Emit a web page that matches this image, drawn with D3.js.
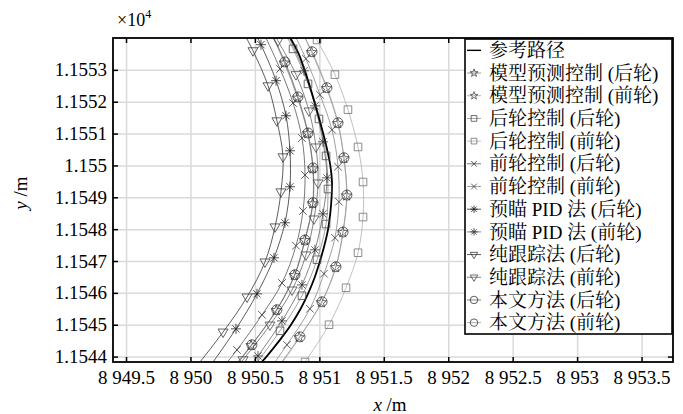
<!DOCTYPE html>
<html>
<head>
<meta charset="utf-8">
<script src="https://cdn.jsdelivr.net/npm/d3@7"></script>
<style>
  body { margin: 0; background: #fff; }
</style>
</head>
<body>
<svg id="chart" width="683" height="414"></svg>
<script>
// ---- axis ticks ----
const xTicks = [8949.5, 8950, 8950.5, 8951, 8951.5, 8952, 8952.5, 8953, 8953.5];
const xTickLabels = ["8 949.5", "8 950", "8 950.5", "8 951", "8 951.5", "8 952", "8 952.5", "8 953", "8 953.5"];
const yTicks = [11544, 11545, 11546, 11547, 11548, 11549, 11550, 11551, 11552, 11553];
const yTickLabels = ["1.1544", "1.1545", "1.1546", "1.1547", "1.1548", "1.1549", "1.155", "1.1551", "1.1552", "1.1553"];

// ---- reference path (x, y in metres) ----
const refY = [11543.5, 11544.0, 11544.5, 11545.0, 11545.5, 11546.0, 11546.5, 11547.0, 11547.5, 11548.0, 11548.5, 11549.0,
              11549.5, 11550.0, 11550.5, 11551.0, 11551.5, 11552.0, 11552.5, 11553.0, 11553.5, 11554.0, 11554.5];
const refX = [8950.48, 8950.59, 8950.69, 8950.78, 8950.855, 8950.915, 8950.965, 8951.005, 8951.04, 8951.068, 8951.085, 8951.095,
              8951.098, 8951.085, 8951.06, 8951.03, 8950.997, 8950.962, 8950.925, 8950.885, 8950.84, 8950.775, 8950.70];

// ---- model predictive control ----
const mpcRearY = [11543.4, 11544.35, 11545.45, 11546.55, 11547.65, 11548.80, 11549.90, 11551.00, 11552.12, 11553.22, 11554.4];
const mpcRearX = [8950.28, 8950.470, 8950.665, 8950.806, 8950.886, 8950.948, 8950.949, 8950.910, 8950.831, 8950.729, 8950.60];
const mpcFrontY = [11543.4, 11544.60, 11545.70, 11546.80, 11547.90, 11549.05, 11550.22, 11551.32, 11552.42, 11553.55, 11554.4];
const mpcFrontX = [8950.63, 8950.843, 8951.016, 8951.126, 8951.182, 8951.212, 8951.190, 8951.143, 8951.056, 8950.940, 8950.84];

// ---- rear-wheel control ----
const rwcRearY = [11543.4, 11544.81, 11545.91, 11547.04, 11548.16, 11549.26, 11550.30, 11551.46, 11552.56, 11553.66, 11554.4];
const rwcRearX = [8950.44, 8950.695, 8950.865, 8950.982, 8951.052, 8951.067, 8951.052, 8950.997, 8950.912, 8950.796, 8950.70];
const rwcFrontY = [11543.4, 11543.83, 11545.00, 11546.16, 11547.26, 11548.38, 11549.48, 11550.58, 11551.75, 11552.85, 11553.94, 11554.4];
const rwcFrontX = [8950.82, 8950.889, 8951.075, 8951.207, 8951.300, 8951.339, 8951.339, 8951.300, 8951.222, 8951.121, 8950.982, 8950.92];

// ---- front-wheel control ----
const fwcRearY = [11543.4, 11544.21, 11545.31, 11546.31, 11547.48, 11548.57, 11549.70, 11550.86, 11551.96, 11553.03, 11554.4];
const fwcRearX = [8950.20, 8950.361, 8950.555, 8950.710, 8950.819, 8950.873, 8950.889, 8950.865, 8950.796, 8950.695, 8950.54];
const fwcFrontY = [11543.4, 11544.37, 11545.50, 11546.60, 11547.73, 11548.86, 11549.96, 11551.12, 11552.22, 11553.35, 11554.4];
const fwcFrontX = [8950.58, 8950.749, 8950.927, 8951.036, 8951.121, 8951.152, 8951.145, 8951.098, 8951.005, 8950.896, 8950.77];

// ---- preview PID ----
const pidRearY = [11543.4, 11544.87, 11545.97, 11547.10, 11548.20, 11549.33, 11550.46, 11551.56, 11552.66, 11553.79, 11554.4];
const pidRearX = [8950.10, 8950.353, 8950.516, 8950.648, 8950.733, 8950.772, 8950.772, 8950.741, 8950.664, 8950.547, 8950.47];
const pidFrontY = [11543.4, 11544.02, 11545.12, 11546.25, 11547.35, 11548.48, 11549.61, 11550.74, 11551.87, 11552.97, 11554.4];
const pidFrontX = [8950.41, 8950.524, 8950.710, 8950.865, 8950.966, 8951.028, 8951.059, 8951.028, 8950.966, 8950.881, 8950.72];

// ---- pure pursuit ----
const ppRearY = [11543.4, 11544.77, 11545.87, 11546.97, 11548.07, 11549.17, 11550.27, 11551.40, 11552.50, 11553.60, 11554.4];
const ppRearX = [8949.99, 8950.253, 8950.439, 8950.578, 8950.656, 8950.702, 8950.718, 8950.671, 8950.602, 8950.485, 8950.38];
const ppFrontY = [11543.4, 11543.90, 11544.99, 11546.09, 11547.19, 11548.32, 11549.45, 11550.58, 11551.71, 11552.85, 11553.91, 11554.4];
const ppFrontX = [8950.31, 8950.408, 8950.617, 8950.788, 8950.896, 8950.958, 8950.990, 8950.974, 8950.920, 8950.819, 8950.679, 8950.61];

// ---- proposed method ----
const oursRearY = [11543.4, 11544.37, 11545.47, 11546.57, 11547.66, 11548.83, 11549.92, 11551.02, 11552.15, 11553.25, 11554.4];
const oursRearX = [8950.29, 8950.477, 8950.671, 8950.811, 8950.889, 8950.951, 8950.951, 8950.912, 8950.834, 8950.733, 8950.60];
const oursFrontY = [11543.4, 11544.62, 11545.72, 11546.82, 11547.91, 11549.07, 11550.24, 11551.34, 11552.44, 11553.57, 11554.4];
const oursFrontX = [8950.64, 8950.850, 8951.021, 8951.129, 8951.184, 8951.214, 8951.191, 8951.145, 8951.059, 8950.943, 8950.84];

// ---- marker shapes (size = radius in px) ----
const shapes = {
  star: { draw(c, r) {
    for (let i = 0; i < 10; i++) {
      const a = -Math.PI / 2 + i * Math.PI / 5, rr = i % 2 ? r * 0.40 : r;
      const px = rr * Math.cos(a), py = rr * Math.sin(a);
      i ? c.lineTo(px, py) : c.moveTo(px, py);
    }
    c.closePath();
  }},
  square: { draw(c, r) { c.rect(-r, -r, 2 * r, 2 * r); } },
  times: { draw(c, r) { c.moveTo(-r, -r); c.lineTo(r, r); c.moveTo(r, -r); c.lineTo(-r, r); } },
  asterisk: { draw(c, r) {
    const d = r * 0.72;
    c.moveTo(0, -r); c.lineTo(0, r); c.moveTo(-r, 0); c.lineTo(r, 0);
    c.moveTo(-d, -d); c.lineTo(d, d); c.moveTo(d, -d); c.lineTo(-d, d);
  }},
  triDown: { draw(c, r) { c.moveTo(-r, -r * 0.6); c.lineTo(r, -r * 0.6); c.lineTo(0, r * 1.1); c.closePath(); } },
  circle: { draw(c, r) { c.moveTo(r, 0); c.arc(0, 0, r, 0, 2 * Math.PI); } }
};

const series = [
  { name: "模型预测控制 (后轮)", xs: mpcRearX,  ys: mpcRearY,  shape: "star",     r: 5.5, line: "#808080", mark: "#3a3a3a" },
  { name: "模型预测控制 (前轮)", xs: mpcFrontX, ys: mpcFrontY, shape: "star",     r: 5.5, line: "#a0a0a0", mark: "#4a4a4a" },
  { name: "后轮控制 (后轮)",     xs: rwcRearX,  ys: rwcRearY,  shape: "square",   r: 3.8, line: "#8a8a8a", mark: "#4a4a4a" },
  { name: "后轮控制 (前轮)",     xs: rwcFrontX, ys: rwcFrontY, shape: "square",   r: 3.8, line: "#b0b0b0", mark: "#707070" },
  { name: "前轮控制 (后轮)",     xs: fwcRearX,  ys: fwcRearY,  shape: "times",    r: 3.8, line: "#555",    mark: "#333" },
  { name: "前轮控制 (前轮)",     xs: fwcFrontX, ys: fwcFrontY, shape: "times",    r: 3.8, line: "#888",    mark: "#3a3a3a" },
  { name: "预瞄 PID 法 (后轮)",  xs: pidRearX,  ys: pidRearY,  shape: "asterisk", r: 5,   line: "#333",    mark: "#222" },
  { name: "预瞄 PID 法 (前轮)",  xs: pidFrontX, ys: pidFrontY, shape: "asterisk", r: 5,   line: "#666",    mark: "#333" },
  { name: "纯跟踪法 (后轮)",     xs: ppRearX,   ys: ppRearY,   shape: "triDown",  r: 5,   line: "#333",    mark: "#3a3a3a" },
  { name: "纯跟踪法 (前轮)",     xs: ppFrontX,  ys: ppFrontY,  shape: "triDown",  r: 5,   line: "#666",    mark: "#4a4a4a" },
  { name: "本文方法 (后轮)",     xs: oursRearX, ys: oursRearY, shape: "circle",   r: 5,   line: "#666",    mark: "#333" },
  { name: "本文方法 (前轮)",     xs: oursFrontX,ys: oursFrontY,shape: "circle",   r: 5,   line: "#9a9a9a", mark: "#3a3a3a" }
];

// ---- layout ----
const FONT = '"Liberation Serif", "Times New Roman", Times, "DejaVu Serif", "Noto Serif CJK SC", "Noto Sans CJK SC", serif';
const L = 113, T = 38, PW = 560, PH = 324;
const svg = d3.select("#chart");
const g = svg.append("g").attr("transform", `translate(${L},${T})`);

const x = d3.scaleLinear().domain([8949.399, 8953.744]).range([0, PW]);
const y = d3.scaleLinear().domain([11543.83, 11554.0]).range([PH, 0]);

// grid
const gx = g.append("g").call(d3.axisBottom(x).tickValues(xTicks).tickSize(PH).tickFormat(""));
const gy = g.append("g").call(d3.axisLeft(y).tickValues(yTicks).tickSize(-PW).tickFormat(""));
[gx, gy].forEach(s => {
  s.select(".domain").remove();
  s.selectAll("line").attr("stroke", "#dadada").attr("stroke-width", 1.5);
});

svg.append("defs").append("clipPath").attr("id", "plotclip")
  .append("rect").attr("width", PW).attr("height", PH);
const plot = g.append("g").attr("clip-path", "url(#plotclip)");

const lineGen = d3.line().x(d => x(d[0])).y(d => y(d[1])).curve(d3.curveCatmullRom.alpha(0.5));

// series curves
series.forEach(s => {
  plot.append("path").datum(d3.zip(s.xs, s.ys))
    .attr("d", lineGen).attr("fill", "none")
    .attr("stroke", s.line).attr("stroke-width", 0.8);
});

// reference path
plot.append("path").datum(d3.zip(refX, refY))
  .attr("d", lineGen).attr("fill", "none")
  .attr("stroke", "#000").attr("stroke-width", 1.8);

// markers
series.forEach(s => {
  plot.append("g").selectAll("path").data(d3.zip(s.xs, s.ys)).join("path")
    .attr("transform", d => `translate(${x(d[0])},${y(d[1])})`)
    .attr("d", d3.symbol().type(shapes[s.shape]).size(s.r))
    .attr("fill", "none").attr("stroke", s.mark).attr("stroke-width", 0.8);
});

// axes with inward ticks
const axB = g.append("g").attr("transform", `translate(0,${PH})`)
  .call(d3.axisBottom(x).tickValues(xTicks).tickFormat((d, i) => xTickLabels[i]).tickSizeInner(-5).tickSizeOuter(0).tickPadding(9));
const axT = g.append("g")
  .call(d3.axisTop(x).tickValues(xTicks).tickFormat("").tickSizeInner(-5).tickSizeOuter(0));
const axL = g.append("g")
  .call(d3.axisLeft(y).tickValues(yTicks).tickFormat((d, i) => yTickLabels[i]).tickSizeInner(-5).tickSizeOuter(0).tickPadding(6));
const axR = g.append("g").attr("transform", `translate(${PW},0)`)
  .call(d3.axisRight(y).tickValues(yTicks).tickFormat("").tickSizeInner(-5).tickSizeOuter(0));
[axB, axT, axL, axR].forEach(a => {
  a.attr("font-family", FONT).attr("font-size", 19);
  a.select(".domain").remove();
  a.selectAll("line").attr("stroke", "#000").attr("stroke-width", 1.5);
  a.selectAll("text").attr("fill", "#000").style("font-family", FONT).style("font-size", "19px");
});

// frame
g.append("rect").attr("width", PW).attr("height", PH)
  .attr("fill", "none").attr("stroke", "#000").attr("stroke-width", 1.8);

// exponent label
const ex = svg.append("text").attr("x", 117).attr("y", 26).style("font-family", FONT).style("font-size", "18px");
ex.append("tspan").text("×10");
ex.append("tspan").attr("dy", -8).style("font-size", "12px").text("4");

// axis titles
const xt = svg.append("text").attr("x", 390).attr("y", 411).attr("text-anchor", "middle")
  .style("font-family", FONT).style("font-size", "19px");
xt.append("tspan").style("font-style", "italic").text("x");
xt.append("tspan").text(" /m");
const yt = svg.append("text").attr("transform", "translate(27,193) rotate(-90)").attr("text-anchor", "middle")
  .style("font-family", FONT).style("font-size", "19px");
yt.append("tspan").style("font-style", "italic").text("y");
yt.append("tspan").text(" /m");

// legend
const LX = 465, LY = 39, LW = 207, LH = 295;
const leg = svg.append("g");
leg.append("rect").attr("x", LX).attr("y", LY).attr("width", LW).attr("height", LH)
  .attr("fill", "#fff").attr("stroke", "#000").attr("stroke-width", 1.6);
const rowH = LH / 13;
const entries = [{ name: "参考路径", ref: true }].concat(series);
entries.forEach((e, i) => {
  const cy = LY + rowH / 2 + i * rowH;
  leg.append("line").attr("x1", LX + 2).attr("x2", LX + 16).attr("y1", cy).attr("y2", cy)
    .attr("stroke", e.ref ? "#000" : e.line).attr("stroke-width", e.ref ? 1.4 : 0.8);
  if (!e.ref) {
    leg.append("path").attr("transform", `translate(${LX + 9},${cy})`)
      .attr("d", d3.symbol().type(shapes[e.shape]).size(e.r * 0.75))
      .attr("fill", "none").attr("stroke", e.mark).attr("stroke-width", 0.8);
  }
  leg.append("text").attr("x", LX + 24).attr("y", cy).attr("dy", "0.35em")
    .style("font-family", FONT).style("font-size", "19px").text(e.name);
});
</script>
</body>
</html>
